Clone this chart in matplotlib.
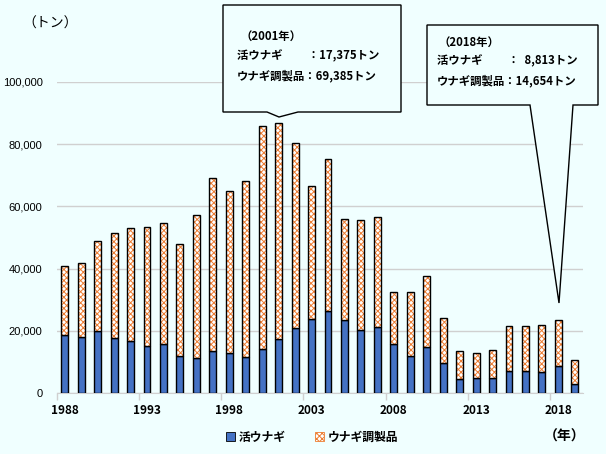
import matplotlib
matplotlib.use("Agg")
import matplotlib.pyplot as plt
import matplotlib.ticker as mticker
from matplotlib.patches import Polygon, Patch

plt.rcParams["font.family"] = ["Noto Sans CJK JP", "DejaVu Sans"]
plt.rcParams["hatch.linewidth"] = 0.7

# ── data (tons) ──────────────────────────────────────────────────────────────
years = list(range(1988, 2020))
live_eel = [18600, 18100, 19900, 17600, 16700, 15200, 15700, 11800,
            11200, 13400, 12800, 11500, 14100, 17375, 20900, 23800,
            26300, 23400, 20200, 21200, 15700, 11800, 14700, 9600,
            4400, 4700, 4700, 7000, 7000, 6700, 8813, 2800]
processed_eel = [22300, 23800, 29000, 33900, 36400, 38200, 39000, 36100,
                 45900, 55600, 52200, 56800, 71600, 69385, 59600, 42600,
                 49100, 32600, 35500, 35500, 16800, 20700, 22900, 14500,
                 9000, 8100, 9100, 14500, 14500, 15200, 14654, 7700]
tick_years = [1988, 1993, 1998, 2003, 2008, 2013, 2018]

BG = "#F0FFFF"
BLUE = "#4472C4"
ORANGE = "#ED7D31"
HATCH = "xxxxxx"
W = 0.42

fig = plt.figure(figsize=(6.06, 4.54), dpi=100, facecolor=BG)
ax = fig.add_axes([56.5 / 606, 1 - 393 / 454, (583 - 56.5) / 606, (393 - 82) / 454])
ax.set_facecolor(BG)

ax.bar(years, live_eel, width=W, color=BLUE, edgecolor="black", linewidth=1.0, zorder=3)
# hatched part: orange pattern on white, then black outline on top
ax.bar(years, processed_eel, bottom=live_eel, width=W, color="white",
       edgecolor=ORANGE, hatch=HATCH, linewidth=0, zorder=3)
ax.bar(years, processed_eel, bottom=live_eel, width=W, fill=False,
       edgecolor="black", linewidth=1.0, zorder=4)

ax.set_xlim(1987.5, 2019.5)
ax.set_ylim(0, 100000)
ax.yaxis.set_major_locator(mticker.MultipleLocator(20000))
ax.yaxis.set_major_formatter(mticker.FuncFormatter(lambda v, _: f"{int(v):,}"))
ax.grid(axis="y", color="#D0D0D0", linewidth=1.0, zorder=0)
for s in ["top", "right", "left"]:
    ax.spines[s].set_visible(False)
ax.spines["bottom"].set_color("#D0D0D0")
ax.tick_params(axis="y", length=0, labelsize=8, pad=10)
for lab in ax.get_yticklabels():
    lab.set_family("Liberation Sans")

ax.set_xticks(tick_years)
ax.set_xticklabels([str(y) for y in tick_years], fontweight="bold", fontsize=8.5)
ax.tick_params(axis="x", length=0, pad=8)
ax.set_xticks([y - 0.5 for y in range(1988, 2020, 5)], minor=True)
ax.tick_params(axis="x", which="minor", length=5, color="#D0D0D0", width=1.0)

fig.text(22 / 606, 1 - 24 / 454, "（トン）", fontsize=10, va="center", ha="left")
fig.text(565 / 606, 1 - 437 / 454, "（年）", fontsize=10, fontweight="bold",
         va="center", ha="center")

# legend
handles = [Patch(facecolor=BLUE, edgecolor="black", linewidth=0.6),
           Patch(facecolor="white", edgecolor=ORANGE, hatch=HATCH, linewidth=0.6)]
fig.legend(handles, ["活ウナギ", "ウナギ調製品"], loc="center",
           bbox_to_anchor=(312 / 606, 1 - 437 / 454), ncol=2, frameon=False,
           prop={"size": 8.5, "weight": "bold"}, handlelength=0.8,
           handleheight=0.8, columnspacing=2.5, handletextpad=0.3)

# ── callouts ─────────────────────────────────────────────────────────────────
def px(x, y):
    return (x / 606, 1 - y / 454)

def callout(pts):
    poly = Polygon([px(*p) for p in pts], closed=True, transform=fig.transFigure,
                   facecolor=BG, edgecolor="black", linewidth=1.0, zorder=10)
    fig.add_artist(poly)

callout([(223, 5), (401, 5), (401, 112), (298, 112), (279, 117),
         (267, 112), (223, 112)])
callout([(427, 25), (598, 25), (598, 105), (573, 105), (559, 303),
         (530, 105), (427, 105)])

box1 = [("（2001年）", 241, 36), ("活ウナギ　　 ：17,375トン", 237, 56),
        ("ウナギ調製品：69,385トン", 237, 76)]
box2 = [("（2018年）", 438, 42), ("活ウナギ　　 ：  8,813トン", 437, 61),
        ("ウナギ調製品：14,654トン", 437, 81)]
for txt, x, y in box1 + box2:
    fig.text(*px(x, y), txt, fontsize=8.2, fontweight="bold", va="center",
             ha="left", zorder=11)

fig.savefig("out.png", dpi=100, facecolor=BG)
